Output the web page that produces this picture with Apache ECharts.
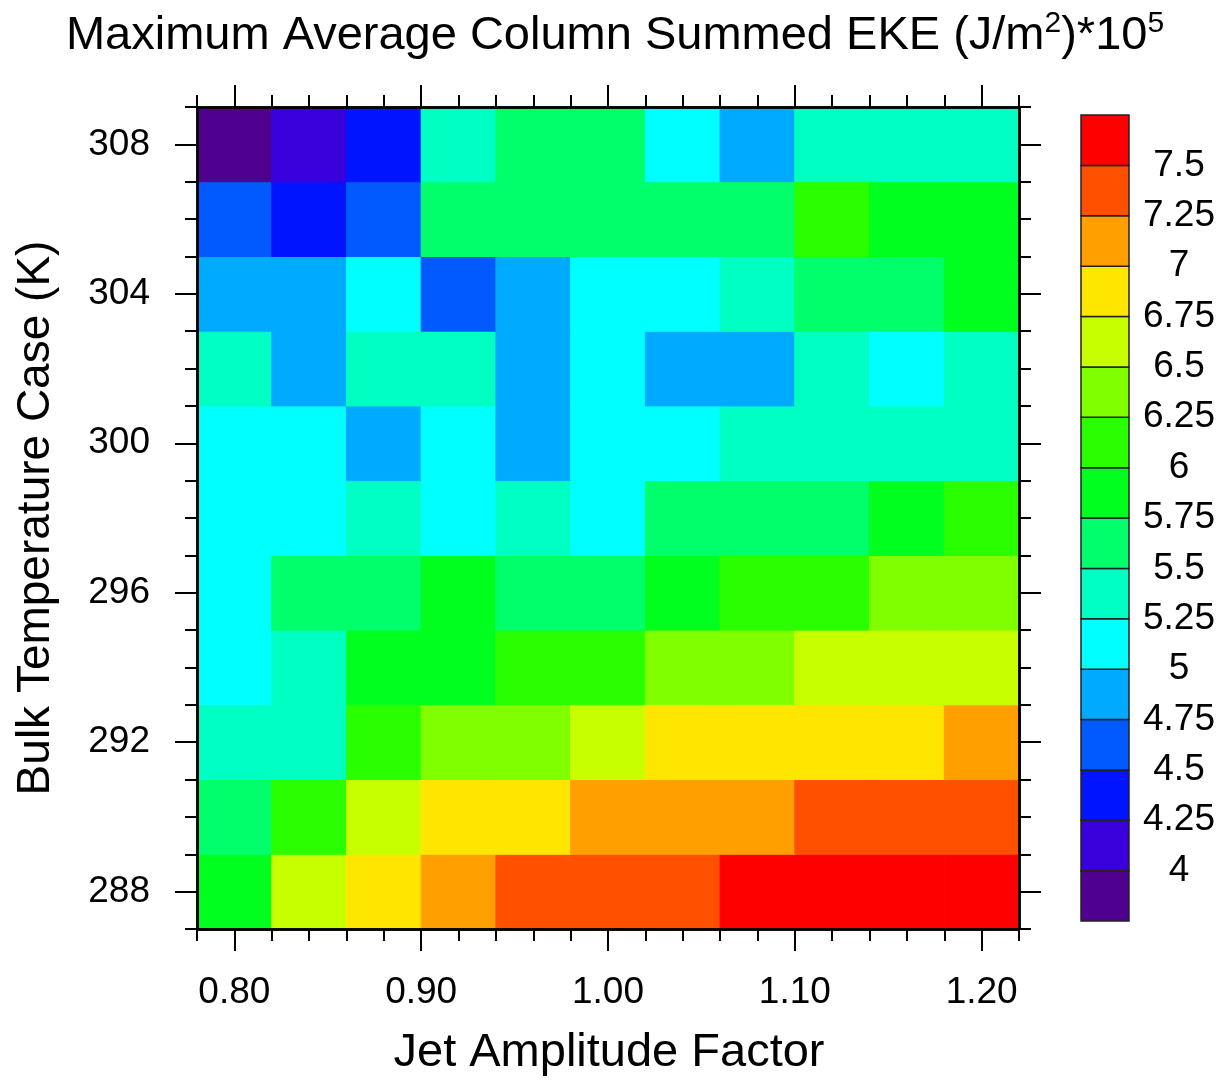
<!DOCTYPE html>
<html lang="en">
<head>
    <meta charset="utf-8">
    <title>Maximum Average Column Summed EKE</title>
    <script src="https://cdn.jsdelivr.net/npm/echarts@6/dist/echarts.min.js"></script>
    <style>
        body { margin: 0; background: #fff; }
        #main { width: 1228px; height: 1080px; }
    </style>
</head>

<body>
<div id="main"></div>

<script type="text/javascript">

    // jet amplitude factor (columns) and bulk temperature case (rows)
    var jetFactor = [0.80, 0.84, 0.88, 0.92, 0.96, 1.00, 1.04, 1.08, 1.12, 1.16, 1.20];
    var tempCase = [288, 290, 292, 294, 296, 298, 300, 302, 304, 306, 308];

    // EKE values (J/m2 * 1e5), one row per temperature case
    var eke288 = [5.88, 6.62, 6.88, 7.12, 7.38, 7.38, 7.38, 7.60, 7.60, 7.60, 7.60];
    var eke290 = [5.62, 6.12, 6.62, 6.88, 6.88, 7.12, 7.12, 7.12, 7.38, 7.38, 7.38];
    var eke292 = [5.38, 5.38, 6.12, 6.38, 6.38, 6.62, 6.88, 6.88, 6.88, 6.88, 7.12];
    var eke294 = [5.12, 5.38, 5.88, 5.88, 6.12, 6.12, 6.38, 6.38, 6.62, 6.62, 6.62];
    var eke296 = [5.12, 5.62, 5.62, 5.88, 5.62, 5.62, 5.88, 6.12, 6.12, 6.38, 6.38];
    var eke298 = [5.12, 5.12, 5.38, 5.12, 5.38, 5.12, 5.62, 5.62, 5.62, 5.88, 6.12];
    var eke300 = [5.12, 5.12, 4.88, 5.12, 4.88, 5.12, 5.12, 5.38, 5.38, 5.38, 5.38];
    var eke302 = [5.38, 4.88, 5.38, 5.38, 4.88, 5.12, 4.88, 4.88, 5.38, 5.12, 5.38];
    var eke304 = [4.88, 4.88, 5.12, 4.62, 4.88, 5.12, 5.12, 5.38, 5.62, 5.62, 5.88];
    var eke306 = [4.62, 4.38, 4.62, 5.62, 5.62, 5.62, 5.62, 5.62, 6.12, 5.88, 5.88];
    var eke308 = [3.90, 4.12, 4.38, 5.38, 5.62, 5.62, 5.12, 4.88, 5.38, 5.38, 5.38];
    var ekeRows = [eke288, eke290, eke292, eke294, eke296, eke298, eke300, eke302, eke304, eke306, eke308];

    // contour levels and fill colours (16 bins)
    var levels = [4, 4.25, 4.5, 4.75, 5, 5.25, 5.5, 5.75, 6, 6.25, 6.5, 6.75, 7, 7.25, 7.5];
    var levelLabels = ['4', '4.25', '4.5', '4.75', '5', '5.25', '5.5', '5.75', '6', '6.25', '6.5', '6.75', '7', '7.25', '7.5'];
    var binColors = ['#50008f', '#3a00dc', '#0014ff', '#005aff', '#00aaff', '#00ffff', '#00ffc3', '#00ff6b',
                     '#00ff1e', '#2aff00', '#7fff00', '#c8ff00', '#ffe600', '#ffa000', '#ff5000', '#ff0000'];

    // tick positions
    var xMajorTicks = [0.80, 0.90, 1.00, 1.10, 1.20];
    var yMajorTicks = [288, 292, 296, 300, 304, 308];

    var FONT = '"Liberation Sans", Helvetica, Arial, sans-serif';

    function colorFor(v) {
        var i = 0;
        while (i < levels.length && v >= levels[i]) i++;
        return binColors[i];
    }

    var cells = [];
    for (var r = 0; r < tempCase.length; r++) {
        for (var c = 0; c < jetFactor.length; c++) {
            cells.push([jetFactor[c], tempCase[r], ekeRows[r][c]]);
        }
    }
    var barBoxes = binColors.map(function (col, i) { return [i]; });

    var lineStyle = { color: '#000', width: 2.5 };
    var tickStyle = { color: '#000', width: 2 };

    function xAxisDef(pos, major, labels) {
        var a = {
            type: 'value', gridIndex: 0, position: pos, min: 0.78, max: 1.22, z: 10,
            axisLine: { show: true, onZero: false, lineStyle: lineStyle },
            splitLine: { show: false },
            axisTick: { show: true, inside: false, length: major ? 22 : 12, lineStyle: tickStyle },
            axisLabel: { show: false }
        };
        if (major) {
            a.axisTick.customValues = xMajorTicks;
            a.axisLabel = labels ? {
                show: true, customValues: xMajorTicks, margin: 45,
                fontFamily: FONT, fontSize: 37, color: '#000',
                formatter: function (v) { return v.toFixed(2); }
            } : { show: false };
        } else {
            a.interval = 0.02;
        }
        return a;
    }

    function yAxisDef(pos, major, labels) {
        var a = {
            type: 'value', gridIndex: 0, position: pos, min: 287, max: 309, z: 10,
            axisLine: { show: true, onZero: false, lineStyle: lineStyle },
            splitLine: { show: false },
            axisTick: { show: true, inside: false, length: major ? 22 : 12, lineStyle: tickStyle },
            axisLabel: { show: false }
        };
        if (major) {
            a.axisTick.customValues = yMajorTicks;
            a.axisLabel = labels ? {
                show: true, customValues: yMajorTicks, margin: 47,
                fontFamily: FONT, fontSize: 37, color: '#000'
            } : { show: false };
        } else {
            a.interval = 1;
        }
        return a;
    }

    var myChart = echarts.init(document.getElementById('main'), null, { renderer: 'canvas' });

    myChart.setOption({
        animation: false,
        backgroundColor: '#fff',
        title: {
            left: 610, top: 4, textAlign: 'center',
            text: 'Maximum Average Column Summed EKE (J/m{sup|2})*10{sup|5}',
            textStyle: {
                fontFamily: FONT, fontSize: 47, fontWeight: 'normal', color: '#000',
                rich: {
                    sup: { fontFamily: FONT, fontSize: 30, verticalAlign: 'top', padding: [0, 0, 24, 0], color: '#000' }
                }
            }
        },
        graphic: [
            {
                type: 'text', x: 609, y: 1053,
                style: { text: 'Jet Amplitude Factor', fontFamily: FONT, fontSize: 47, fill: '#000',
                         align: 'center', verticalAlign: 'middle' }
            },
            {
                type: 'text', x: 36, y: 518, rotation: Math.PI / 2,
                style: { text: 'Bulk Temperature Case (K)', fontFamily: FONT, fontSize: 46, fill: '#000',
                         align: 'center', verticalAlign: 'middle' }
            }
        ],
        grid: [
            { left: 197, top: 107, width: 822, height: 822 },
            { left: 1081, top: 115, width: 48, height: 806 }
        ],
        xAxis: [
            xAxisDef('bottom', true, true),
            xAxisDef('bottom', false),
            xAxisDef('top', true, false),
            xAxisDef('top', false),
            { type: 'value', gridIndex: 1, min: 0, max: 1, show: false }
        ],
        yAxis: [
            yAxisDef('left', true, true),
            yAxisDef('left', false),
            yAxisDef('right', true, false),
            yAxisDef('right', false),
            {
                type: 'value', gridIndex: 1, position: 'right', min: 0, max: 16, interval: 1,
                axisLine: { show: false }, axisTick: { show: false }, splitLine: { show: false },
                axisLabel: {
                    show: true, margin: 50, align: 'center',
                    fontFamily: FONT, fontSize: 37, color: '#000',
                    formatter: function (v) { return (v >= 1 && v <= 15) ? levelLabels[v - 1] : ''; }
                }
            }
        ],
        series: [
            {
                type: 'custom',
                name: 'eke',
                xAxisIndex: 0, yAxisIndex: 0,
                data: cells,
                clip: true,
                renderItem: function (params, api) {
                    var x = api.value(0), y = api.value(1), v = api.value(2);
                    var p0 = api.coord([x - 0.02, y + 1]);
                    var p1 = api.coord([x + 0.02, y - 1]);
                    var col = colorFor(v);
                    return {
                        type: 'rect',
                        shape: { x: p0[0], y: p0[1], width: p1[0] - p0[0], height: p1[1] - p0[1] },
                        style: { fill: col, stroke: col, lineWidth: 1 }
                    };
                }
            },
            {
                type: 'custom',
                name: 'colorbar',
                xAxisIndex: 4, yAxisIndex: 4,
                data: barBoxes,
                renderItem: function (params, api) {
                    var i = api.value(0);
                    var p0 = api.coord([0, i + 1]);
                    var p1 = api.coord([1, i]);
                    return {
                        type: 'rect',
                        shape: { x: p0[0], y: p0[1], width: p1[0] - p0[0], height: p1[1] - p0[1] },
                        style: { fill: binColors[i], stroke: '#222', lineWidth: 1.5 }
                    };
                }
            }
        ]
    });

</script>
</body>
</html>
